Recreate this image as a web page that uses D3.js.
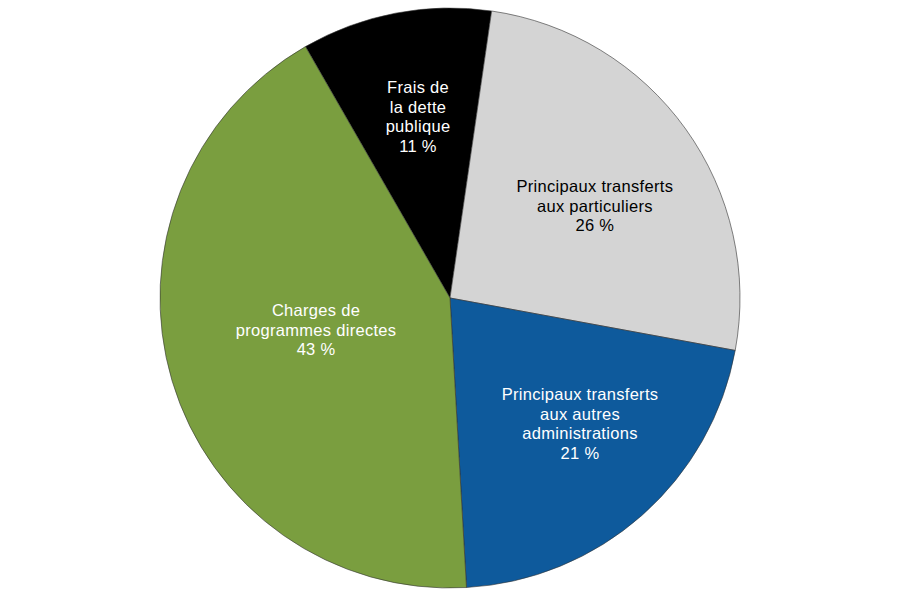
<!doctype html>
<html>
  <head>
    <meta charset="utf-8">
    <title>Charges</title>
    <script src="https://d3js.org/d3.v7.min.js"></script>
    <style>
      body { margin: 0; background: #fff; }
      path.slice { stroke: #333; stroke-width: 0.6; }
      text.lbl { font-family: "Liberation Sans", Arial, sans-serif; font-size: 16.5px; letter-spacing: 0.3px; fill: #fff; }
    </style>
  </head>
  <body>
    <svg width="900" height="600"></svg>
    <script>
      // slices, clockwise from the black one
      var categories = ["Frais de la dette publique", "Principaux transferts aux particuliers",
                        "Principaux transferts aux autres administrations", "Charges de programmes directes"];
      var values = [10.6, 25.6, 21.2, 42.6];
      var labelLines = [
        ["Frais de", "la dette", "publique"],
        ["Principaux transferts", "aux particuliers"],
        ["Principaux transferts", "aux autres", "administrations"],
        ["Charges de", "programmes directes"]
      ];
      var colors = ["#000000", "#d4d4d4", "#0e5a9c", "#7a9e3f"];
      var textColors = ["#fff", "#000", "#fff", "#fff"];

      var data = categories.map((c, i) => ({name: c, value: values[i], lines: labelLines[i], i: i}));

      var cx = 450, cy = 298, R = 290;
      // label placement: share of radius, and angle nudge in degrees from the slice middle
      var labelR = [0.634, 0.592, 0.624, 0.475];
      var labelShift = [0.8, 3.2, -4.5, 3.1];

      var pie = d3.pie().sort(null).value(d => d.value)
        .startAngle(-29.9 * Math.PI / 180)
        .endAngle((360 - 29.9) * Math.PI / 180);
      var arc = d3.arc().innerRadius(0).outerRadius(R);

      var g = d3.select("svg").append("g").attr("transform", "translate(" + cx + "," + cy + ")");
      var arcs = pie(data);

      g.selectAll("path.slice").data(arcs)
        .enter()
        .append("path")
          .attr("class", "slice")
          .attr("d", arc)
          .attr("fill", d => colors[d.data.i]);

      var lh = 19.5;
      arcs.forEach(function(a) {
        var r = R * labelR[a.data.i];
        var ang = (a.startAngle + a.endAngle) / 2 + labelShift[a.data.i] * Math.PI / 180;
        var lx = r * Math.sin(ang), ly = -r * Math.cos(ang);
        var lines = a.data.lines.concat([d3.format(".0f")(a.data.value) + " %"]);
        var t = g.append("text")
          .attr("class", "lbl")
          .attr("text-anchor", "middle")
          .style("fill", textColors[a.data.i]);
        var y0 = ly - (lines.length - 1) * lh / 2;
        lines.forEach(function(s, k) {
          t.append("tspan").attr("x", lx).attr("y", y0 + k * lh).attr("dy", "0.35em").text(s);
        });
      });
    </script>
  </body>
</html>
